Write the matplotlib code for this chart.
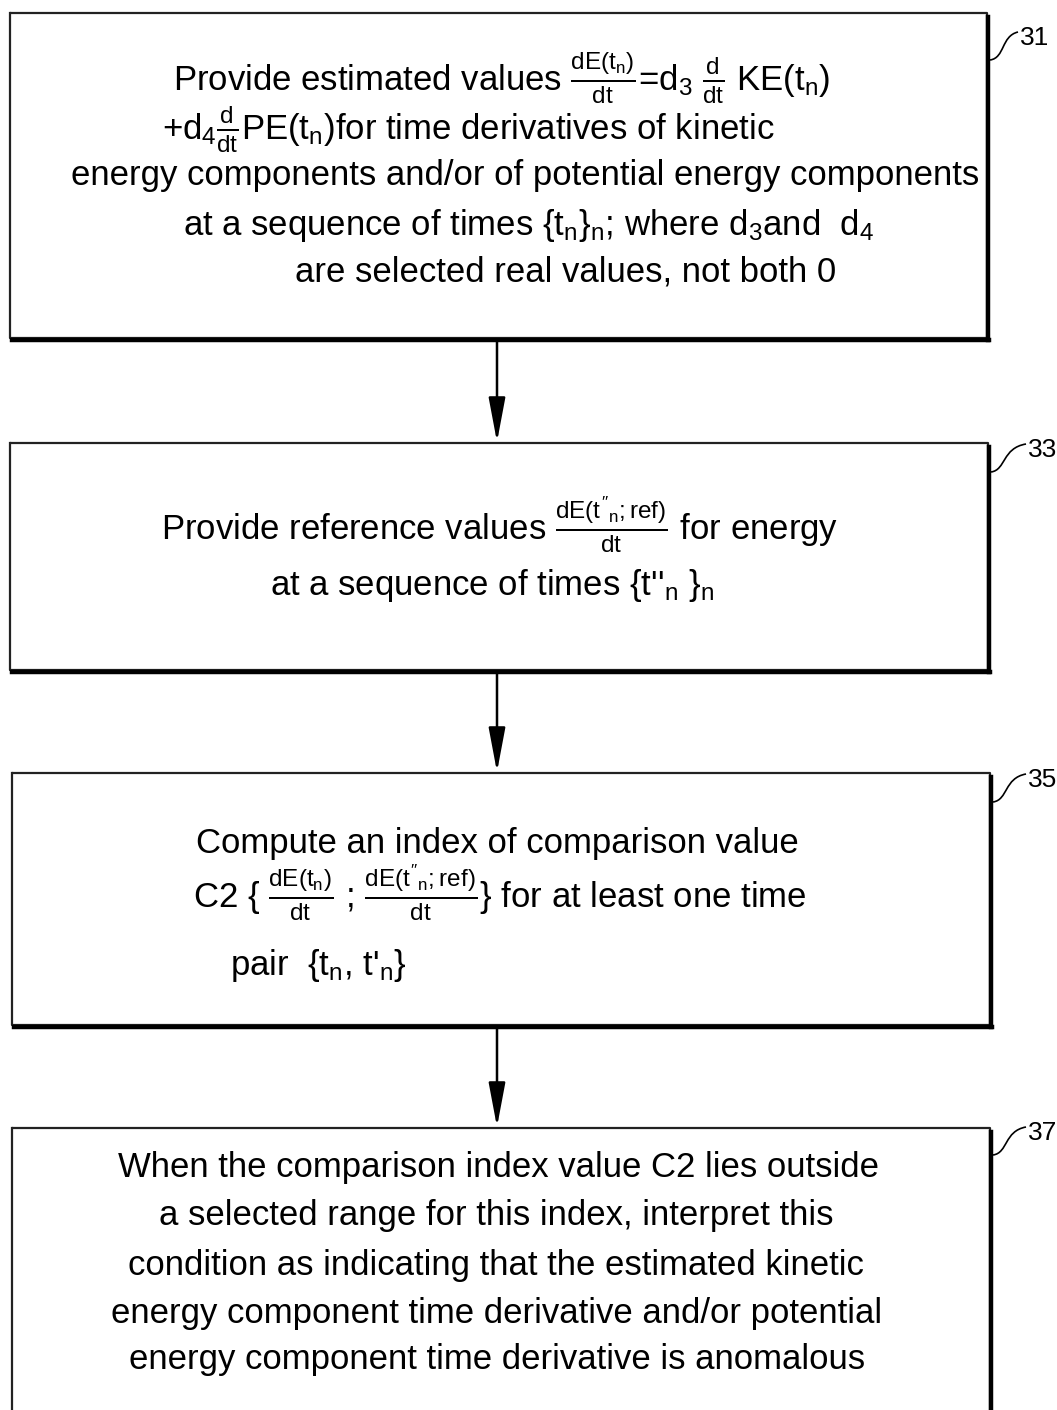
import matplotlib
matplotlib.use("Agg")
import matplotlib.pyplot as plt
from matplotlib.patches import FancyArrowPatch
from matplotlib.path import Path
from matplotlib.patches import PathPatch

plt.rcParams['font.family'] = ['Liberation Sans Narrow', 'Liberation Sans', 'DejaVu Sans']
plt.rcParams['mathtext.fontset'] = 'custom'
plt.rcParams['mathtext.rm'] = 'Liberation Sans'
plt.rcParams['mathtext.it'] = 'Liberation Sans'
plt.rcParams['mathtext.sf'] = 'Liberation Sans'

# Schrittnummern und Texte der Kästen
step_ids = ["31", "33", "35", "37"]

box31_lines = [
    r"Provide estimated values $\frac{dE(t_n)}{dt}$=d$_3$ $\frac{d}{dt}$ KE(t$_n$)",
    r"+d$_4$$\frac{d}{dt}$PE(t$_n$)for time derivatives of kinetic",
    "energy components and/or of potential energy components",
    r"at a sequence of times {t$_n$}$_n$; where d$_3$and  d$_4$",
    "are selected real values, not both 0",
]
box33_lines = [
    r"Provide reference values $\frac{dE(t''_n;ref)}{dt}$ for energy",
    r"at a sequence of times {t''$_n$ }$_n$",
]
box35_lines = [
    "Compute an index of comparison value",
    r"C2 { $\frac{dE(t_n)}{dt}$ ; $\frac{dE(t''_n;ref)}{dt}$} for at least one time",
    r"pair  {t$_n$, t'$_n$}",
]
box37_lines = [
    "When the comparison index value C2 lies outside",
    "a selected range for this index, interpret this",
    "condition as indicating that the estimated kinetic",
    "energy component time derivative and/or potential",
    "energy component time derivative is anomalous",
]
box_texts = [box31_lines, box33_lines, box35_lines, box37_lines]

# Layout (Pixel)
W, H = 1057, 1410
boxes = [(10, 13, 987, 338), (10, 443, 988, 670), (12, 773, 990, 1025), (12, 1128, 990, 1420)]
line_x = [[502, 468, 525, 529, 566], [500, 492], [497, 500, 318], [498, 496, 496, 497, 497]]
line_y = [[78, 129, 176, 225, 272], [525, 585], [843, 893, 965], [1167, 1216, 1265, 1313, 1360]]
label_pos = [(1020, 38), (1028, 450), (1028, 780), (1028, 1133)]

fig = plt.figure(figsize=(W / 100, H / 100), dpi=100)
ax = fig.add_axes([0, 0, 1, 1])
ax.set_xlim(0, W)
ax.set_ylim(H, 0)
ax.axis('off')

for i, (x0, y0, x1, y1) in enumerate(boxes):
    # dünne Kanten oben/links, dicke Kanten rechts/unten
    ax.plot([x0, x1, x1], [y0, y0, y1], color='#222222', lw=1.6, solid_capstyle='butt')
    ax.plot([x0, x0, x1], [y0, y1, y1], color='#222222', lw=1.6)
    ax.plot([x1 + 1, x1 + 1], [y0 + 4, y1 + 2], color='black', lw=3.2)
    ax.plot([x0 + 2, x1 + 2], [y1 + 1.5, y1 + 1.5], color='black', lw=3.2)

    for txt, tx, ty in zip(box_texts[i], line_x[i], line_y[i]):
        ax.text(tx, ty, txt, ha='center', va='center', fontsize=25, color='black')

    # Bezugszeichen mit Führungslinie
    lx, ly = label_pos[i]
    verts = [(x1 + 3, ly + 22), (x1 + 18, ly + 20), (x1 + 14, ly - 2), (lx - 2, ly - 6)]
    path = Path(verts, [Path.MOVETO, Path.CURVE4, Path.CURVE4, Path.CURVE4])
    ax.add_patch(PathPatch(path, fill=False, lw=1.2, color='black'))
    ax.text(lx, ly, step_ids[i], ha='left', va='center', fontsize=19, color='black')

# Pfeile zwischen den Kästen
for a, b in zip(boxes[:-1], boxes[1:]):
    arr = FancyArrowPatch((497, a[3] + 3), (497, b[1] - 1), arrowstyle='-|>,head_length=1.7,head_width=0.32',
                          mutation_scale=16, color='black', lw=1.8, shrinkA=0, shrinkB=0)
    ax.add_patch(arr)

fig.savefig("out.png", dpi=100, facecolor='white')
